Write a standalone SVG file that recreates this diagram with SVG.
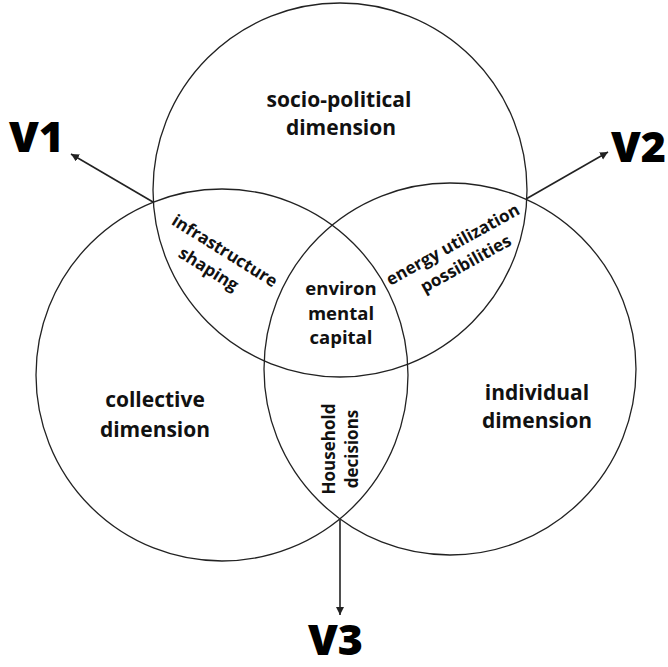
<svg xmlns="http://www.w3.org/2000/svg" width="668" height="667" viewBox="0 0 668 667">
<style>
.c{fill:none;stroke:#222;stroke-width:1.3}
.a{fill:none;stroke:#222;stroke-width:1.6}
.t{font-family:"Open Sans","Liberation Sans",sans-serif;font-weight:700;fill:#111;text-anchor:middle}
.m{font-size:21px}
.s{font-size:17px}
.e{font-size:18.5px}
.v{font-family:"Open Sans","Liberation Sans",sans-serif;font-weight:800;font-size:43px;fill:#000}
</style>
<defs>
<marker id="ah" markerWidth="10" markerHeight="10" refX="8" refY="4" orient="auto" markerUnits="userSpaceOnUse">
<path d="M0,0 L8,4 L0,8 Z" fill="#222"/>
</marker>
</defs>
<rect width="668" height="667" fill="#fff"/>
<g id="top-circle">
<circle class="c" cx="340" cy="190" r="187"/>
<text class="t m" x="339" y="107">socio-political</text>
<text class="t m" x="341" y="135">dimension</text>
</g>
<g id="left-circle">
<circle class="c" cx="222" cy="375" r="186"/>
<text class="t m" x="155" y="407">collective</text>
<text class="t m" x="155" y="437">dimension</text>
</g>
<g id="right-circle">
<circle class="c" cx="450" cy="369" r="186"/>
<text class="t m" x="537" y="400">individual</text>
<text class="t m" x="537" y="428">dimension</text>
</g>
<g id="infrastructure">
<g transform="translate(219,260) rotate(32)">
<text class="t s" x="0" y="-5">infrastructure</text>
<text class="t s" x="-4" y="19">shaping</text>
</g>
</g>
<g id="energy">
<g transform="translate(458,254) rotate(-29)">
<text class="t s" x="0" y="-5">energy utilization</text>
<text class="t s" x="2" y="18">possibilities</text>
</g>
</g>
<g id="environmental">
<text class="t e" x="341" y="295">environ</text>
<text class="t e" x="341" y="320">mental</text>
<text class="t e" x="341" y="344">capital</text>
</g>
<g id="household">
<g transform="translate(340,449) rotate(-90)">
<text class="t s" x="0" y="-5">Household</text>
<text class="t s" x="0" y="18">decisions</text>
</g>
</g>
<g id="connectors">
<line class="a" x1="153" y1="202" x2="71" y2="154" marker-end="url(#ah)"/>
<line class="a" x1="526" y1="199" x2="608" y2="152" marker-end="url(#ah)"/>
<line class="a" x1="340" y1="520" x2="340" y2="615" marker-end="url(#ah)"/>
</g>
<g id="V1"><text class="v" x="9" y="152">V1</text></g>
<g id="V2"><text class="v" x="611" y="162">V2</text></g>
<g id="V3"><text class="v" x="308" y="655">V3</text></g>
</svg>
